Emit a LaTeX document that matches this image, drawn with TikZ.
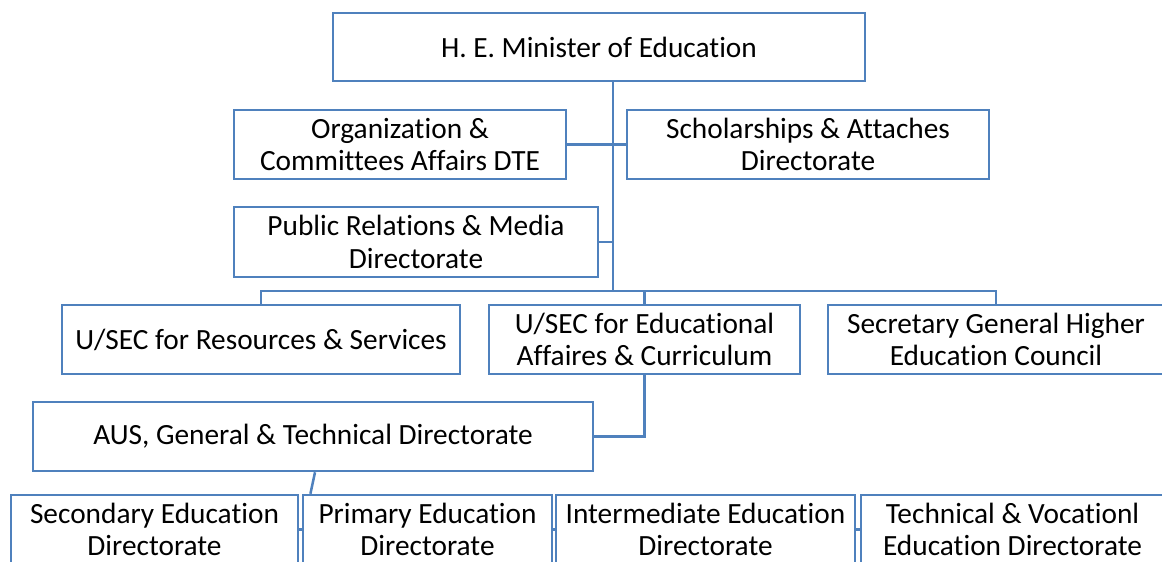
\documentclass[tikz,border=0pt]{standalone}
\usepackage{fontspec}
\setmainfont{Carlito}[Ligatures=CommonOff]
\definecolor{boxblue}{RGB}{79,129,189}
\tikzset{
  box/.style={draw=boxblue, line width=1.9pt, align=center, inner sep=0pt,
    minimum height=51.75pt, font=\fontsize{22}{24.5}\selectfont},
  link/.style={draw=boxblue, line width=1.9pt},
}
\begin{document}
\begin{tikzpicture}[x=0.75pt,y=0.75pt,yscale=-1,xscale=1]
        \clip (0,0) rectangle (1162,561);
        
        %Shape: Rectangle [top]
        \node [box, minimum width=399pt, minimum height=51pt] (minister) at (599,47) {H. E. Minister of Education};
        %Shape: Rectangle [staff]
        \node [box, minimum width=249pt] (org) at (400,144.5) {Organization \&\\Committees Affairs DTE};
        \node [box, minimum width=271.5pt] (schol) at (808,144.5) {Scholarships \& Attaches\\Directorate};
        \node [box, minimum width=273pt, minimum height=52.5pt] (pr) at (416,242) {Public Relations \& Media\\Directorate};
        %Shape: Rectangle [under secretaries]
        \node [box, minimum width=298.5pt] (usecRes) at (261,339.5) {U/SEC for Resources \& Services};
        \node [box, minimum width=233.25pt] (usecEd) at (644.5,339.5) {U/SEC for Educational\\Affaires \& Curriculum};
        \node [box, minimum width=252pt] (secGen) at (996,339.5) {Secretary General Higher\\Education Council};
        %Shape: Rectangle [assistant]
        \node [box, minimum width=420pt] (aus) at (313,436.5) {AUS, General \& Technical Directorate};
        %Shape: Rectangle [directorates]
        \node [box, minimum width=215.25pt] (sec) at (154.5,529.5) {Secondary Education\\Directorate};
        \node [box, minimum width=186.75pt] (prim) at (427.5,529.5) {Primary Education\\Directorate};
        \node [box, minimum width=224.25pt] (inter) at (705.5,529.5) {Intermediate Education\\Directorate};
        \node [box, minimum width=227.25pt] (tech) at (1012.5,529.5) {Technical \& Vocationl\\Education Directorate};
        
        %Straight Lines [trunk]
        \coordinate (bus) at (613,291);
        \draw [link] (minister.south -| bus) -- (bus);
        \draw [link] (org.east) -- (org.east -| bus);
        \draw [link] (schol.west) -- (schol.west -| bus);
        \draw [link] (pr.east) -- (pr.east -| bus);
        %Straight Lines [bus]
        \draw [link] (usecRes.north) -- (usecRes.north |- bus) -- (secGen.north |- bus) -- (secGen.north);
        \draw [link] (usecEd.north) -- (usecEd.north |- bus);
        \draw [link] (usecEd.south) |- (aus.east);
        %Straight Lines [bottom row]
        \draw [link] ([xshift=1.5pt]aus.south) -- ([xshift=6.5pt]prim.north west);
        \draw [link] (sec.east) -- (prim.west);
        \draw [link] (prim.east) -- (inter.west);
        \draw [link] (inter.east) -- (tech.west);
        
\end{tikzpicture}
\end{document}
